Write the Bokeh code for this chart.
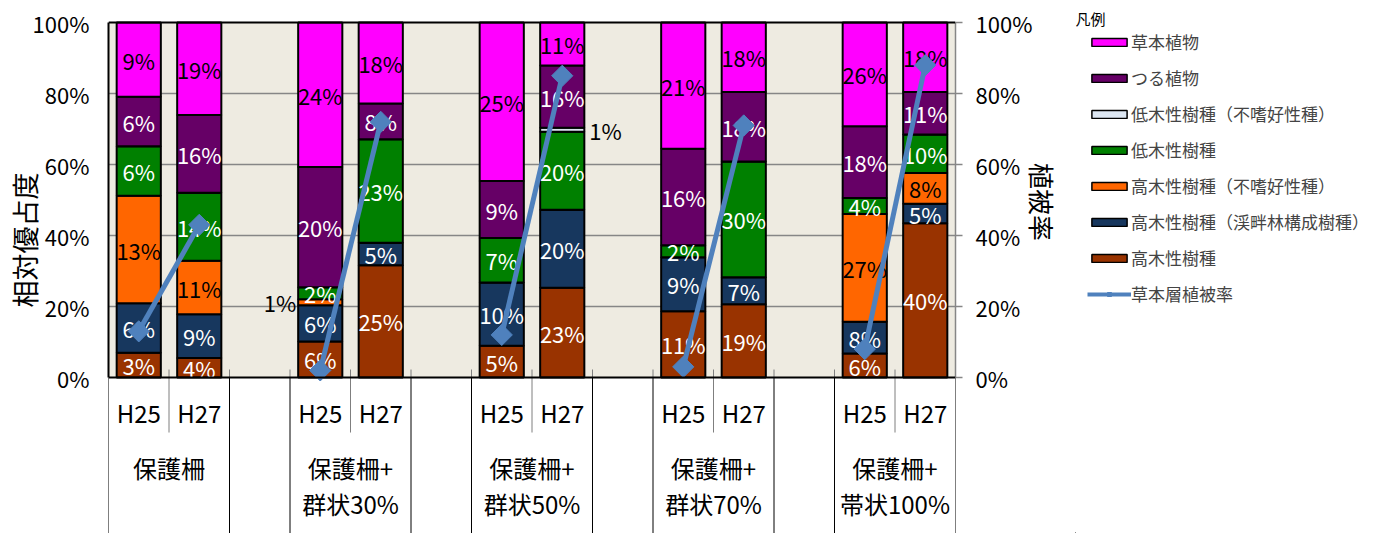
import numpy as np
from bokeh.plotting import figure
from bokeh.layouts import row
from bokeh.models import (FactorRange, Range1d, LinearAxis, FixedTicker, NumeralTickFormatter,
                          ColumnDataSource, Span, BoxAnnotation, Legend, LegendItem, Label)
from bokeh.transform import dodge
from bokeh.core.properties import value
from bokeh.embed import file_html
from bokeh.resources import INLINE

# ---------------- data ----------------
groups = ["保護柵", "保護柵+\n群状30%", "保護柵+\n群状50%", "保護柵+\n群状70%", "保護柵+\n帯状100%"]
years = ["H25", "H27"]

# series, bottom of the stack first
series = ["高木性樹種", "高木性樹種（渓畔林構成樹種）", "高木性樹種（不嗜好性種）",
          "低木性樹種", "低木性樹種（不嗜好性種）", "つる植物", "草本植物"]
colors = ["#993300", "#17375E", "#FF6600", "#008000", "#DCE6F2", "#660066", "#FF00FF"]
label_colors = ["white", "white", "black", "white", "black", "white", "black"]

# values (%) per bar: 保護柵 H25, H27, 群状30% H25, H27, 群状50% H25, H27, 群状70% H25, H27, 帯状100% H25, H27
tall = [3, 4, 6, 25, 5, 23, 11, 19, 6, 40]
riparian = [6, 9, 6, 5, 10, 20, 9, 7, 8, 5]
tall_unpalatable = [13, 11, 1, 0, 0, 0, 0, 0, 27, 8]
shrub = [6, 14, 2, 23, 7, 20, 2, 30, 4, 10]
shrub_unpalatable = [0, 0, 0, 0, 0, 1, 0, 0, 0, 0]
vine = [6, 16, 20, 8, 9, 16, 16, 18, 18, 11]
herb = [9, 19, 24, 18, 25, 11, 21, 18, 26, 18]
values = [tall, riparian, tall_unpalatable, shrub, shrub_unpalatable, vine, herb]

# 草本層植被率 (%), same bar order
cover_name = "草本層植被率"
cover = [13, 43, 2, 72, 12, 85, 3, 71, 8, 88]

# small (<=1%) labels are written beside the bar
small_label_side = {"高木性樹種（不嗜好性種）": "left", "低木性樹種（不嗜好性種）": "right"}

FONT = "Noto Sans CJK JP"
LINE_COLOR = "#4F81BD"
SP = "\u3000"

# ---------------- main figure ----------------
gkeys = [g.replace("\n", "") for g in groups]
factors = [(g, y) for g in gkeys for y in years]
x_range = FactorRange(*factors, factor_padding=0, group_padding=1, range_padding=0)
PX = 355.0                     # pixels per 100 %
Y0 = -(533 - 377) / PX         # bottom of the category-axis area
Y1 = 1 + 22 / PX               # space above 100 %
p = figure(width=1075, height=533, x_range=x_range, y_range=Range1d(Y0, Y1),
           output_backend="svg", toolbar_location=None,
           x_axis_location=None, y_axis_location=None,
           min_border_left=108, min_border_right=120, min_border_top=0, min_border_bottom=0)
p.extra_y_ranges = {"cover": Range1d(Y0, Y1)}
p.outline_line_color = None
p.background_fill_color = "white"
p.border_fill_color = "white"
p.xgrid.visible = False
p.ygrid.ticker = FixedTicker(ticks=[0.2, 0.4, 0.6, 0.8])
p.ygrid.grid_line_color = "#868686"
p.ygrid.grid_line_width = 1.5

bg = BoxAnnotation(bottom=0, top=1, fill_color="#EEEBE1", fill_alpha=1, line_color=None, level="underlay")
p.center = [bg] + list(p.center)

left = LinearAxis(bounds=(0, 1), ticker=FixedTicker(ticks=[0, 0.2, 0.4, 0.6, 0.8, 1.0]),
                  formatter=NumeralTickFormatter(format="0%"))
left.axis_line_color = "black"
left.axis_line_width = 2
left.major_tick_line_color = None
left.minor_tick_line_color = None
left.major_label_standoff = 13
left.major_label_text_font = FONT
left.major_label_text_font_size = "22px"
left.major_label_text_color = "black"
left.axis_label = SP * 2 + "相対優占度"
left.axis_label_text_font = FONT
left.axis_label_text_font_size = "27px"
left.axis_label_text_font_style = "normal"
left.axis_label_text_color = "black"
left.axis_label_standoff = -14
p.add_layout(left, "left")

right = LinearAxis(y_range_name="cover", bounds=(0, 1),
                   ticker=FixedTicker(ticks=[0, 0.2, 0.4, 0.6, 0.8, 1.0]),
                   formatter=NumeralTickFormatter(format="0%"))
right.axis_line_color = "#868686"
right.axis_line_width = 1.5
right.major_tick_line_color = "#868686"
right.major_tick_line_width = 1.5
right.major_tick_in = 0
right.major_tick_out = 7
right.minor_tick_line_color = None
right.major_label_standoff = 13
right.major_label_text_font = FONT
right.major_label_text_font_size = "22px"
right.major_label_text_color = "black"
right.axis_label = "植被率" + SP * 5
right.axis_label_text_font = FONT
right.axis_label_text_font_size = "26px"
right.axis_label_text_font_style = "normal"
right.axis_label_text_color = "black"
right.axis_label_standoff = -11
p.add_layout(right, "right")

# ---------------- stacked bars (normalised to 100%) ----------------
vals = np.array(values, dtype=float)
totals = vals.sum(axis=0)
frac = vals / totals
tops = np.cumsum(frac, axis=0)
bottoms = tops - frac

BAR_W = 0.73
inside = dict(x=[], y=[], text=[], color=[])
out_l = dict(x=[], y=[], text=[])
out_r = dict(x=[], y=[], text=[])
for j, name in enumerate(series):
    src = ColumnDataSource(dict(x=factors, bottom=bottoms[j], top=tops[j]))
    p.vbar(x="x", bottom="bottom", top="top", width=BAR_W, source=src,
           fill_color=colors[j], line_color="black", line_width=2)
    for i, f in enumerate(factors):
        v = values[j][i]
        if v <= 0:
            continue
        mid = (bottoms[j][i] + tops[j][i]) / 2
        txt = f"{v}%"
        if v <= 1 and name in small_label_side:
            d = out_l if small_label_side[name] == "left" else out_r
            d["x"].append(f); d["y"].append(mid); d["text"].append(txt)
        else:
            inside["x"].append(f); inside["y"].append(mid); inside["text"].append(txt)
            inside["color"].append(label_colors[j])

p.text(x="x", y="y", text="text", text_color="color", source=ColumnDataSource(inside),
       text_align="center", text_baseline="middle", text_font=value(FONT), text_font_size="22px")
p.text(x=dodge("x", -BAR_W / 2, range=x_range), y="y", text="text", source=ColumnDataSource(out_l),
       text_align="right", text_baseline="middle", x_offset=-2, text_color="black",
       text_font=value(FONT), text_font_size="22px")
p.text(x=dodge("x", BAR_W / 2, range=x_range), y="y", text="text", source=ColumnDataSource(out_r),
       text_align="left", text_baseline="middle", x_offset=5, text_color="black",
       text_font=value(FONT), text_font_size="22px")

# ---------------- frame lines / category axis ----------------
p.add_layout(Span(location=0, dimension="width", line_color="black", line_width=2))
p.add_layout(Span(location=1, dimension="width", line_color="black", line_width=2))

kinds = [y for g in gkeys for y in years]
full_x = [f for f in factors if f[1] == "H25"]
short_x = [f for f in factors if f[1] == "H27"]
p.segment(x0=dodge("x", -0.5, range=x_range), x1=dodge("x", -0.5, range=x_range), y0=0, y1=Y0,
          source=ColumnDataSource(dict(x=full_x)), line_color="black", line_width=1)
p.segment(x0=dodge("x", 0.5, range=x_range), x1=dodge("x", 0.5, range=x_range), y0=0, y1=Y0,
          source=ColumnDataSource(dict(x=short_x)), line_color="black", line_width=1)
p.segment(x0=dodge("x", -0.5, range=x_range), x1=dodge("x", -0.5, range=x_range), y0=0, y1=-0.155,
          source=ColumnDataSource(dict(x=short_x)), line_color="#7F7F7F", line_width=1)
p.segment(x0=dodge("x", -0.5, range=x_range), x1=dodge("x", -0.5, range=x_range), y0=0, y1=0.0225,
          source=ColumnDataSource(dict(x=factors)), line_color="#7F7F7F", line_width=1)
p.segment(x0=dodge("x", 0.5, range=x_range), x1=dodge("x", 0.5, range=x_range), y0=0, y1=0.0225,
          source=ColumnDataSource(dict(x=short_x)), line_color="#7F7F7F", line_width=1)

p.text(x="x", y=-0.0986, text="t", source=ColumnDataSource(dict(x=factors, t=kinds)),
       text_align="center", text_baseline="middle", text_font=value(FONT), text_font_size="24px",
       text_color="black")
gl = dict(x=[], y=[], t=[])
for g, key in zip(groups, gkeys):
    for k, line in enumerate(g.split("\n")):
        gl["x"].append(key); gl["y"].append(-0.2535 - k * 0.1014); gl["t"].append(line)
p.text(x="x", y="y", text="t", source=ColumnDataSource(gl),
       text_align="center", text_baseline="middle", text_font=value(FONT), text_font_size="24px",
       text_color="black")

# ---------------- cover line ----------------
seg = dict(x0=[], x1=[], y0=[], y1=[])
for i, key in enumerate(gkeys):
    seg["x0"].append((key, "H25")); seg["x1"].append((key, "H27"))
    seg["y0"].append(cover[2 * i] / 100); seg["y1"].append(cover[2 * i + 1] / 100)
p.segment(x0="x0", y0="y0", x1="x1", y1="y1", source=ColumnDataSource(seg),
          y_range_name="cover", line_color=LINE_COLOR, line_width=5)
p.scatter(x="x", y="y", source=ColumnDataSource(dict(x=factors, y=[c / 100 for c in cover])),
          y_range_name="cover", marker="square", angle=np.pi / 4, size=15,
          fill_color=LINE_COLOR, line_color=LINE_COLOR)

# ---------------- legend panel (separate figure) ----------------
LW, LH = 1382 - 1075, 533
lg = figure(width=LW, height=LH, x_range=Range1d(0, LW), y_range=Range1d(0, LH),
            output_backend="svg", toolbar_location=None,
            x_axis_location=None, y_axis_location=None,
            min_border_left=0, min_border_right=0, min_border_top=0, min_border_bottom=0)
lg.outline_line_color = None
lg.grid.visible = False
lg.background_fill_color = "white"
lg.border_fill_color = "white"

# legend-only renderers: one point each, placed just off the visible range
OFF = [-40]
items = []
for j in reversed(range(len(series))):
    r = lg.vbar(x=OFF, top=OFF, bottom=OFF, width=1, fill_color=colors[j],
                line_color="black", line_width=1.5)
    items.append(LegendItem(label=series[j], renderers=[r]))
lr = lg.line(x=[-40, -39], y=[-40, -40], line_color=LINE_COLOR, line_width=4)
ls = lg.scatter(x=OFF, y=OFF, marker="square", angle=np.pi / 4, size=8,
                fill_color=LINE_COLOR, line_color=LINE_COLOR)
items.append(LegendItem(label=cover_name, renderers=[lr, ls]))

legend = Legend(items=items, location=(12, 227), orientation="vertical",
                glyph_width=44, glyph_height=10, label_height=25, spacing=11, padding=0, margin=0,
                label_standoff=-2, label_text_font=FONT, label_text_font_size="17px",
                background_fill_alpha=0, border_line_color=None)
lg.add_layout(legend, "center")
lg.add_layout(Label(x=0, y=LH - 18, x_units="screen", y_units="screen", text="凡例",
                    text_align="left", text_baseline="middle", text_font=FONT,
                    text_font_size="15px", text_color="black"))

open("out.html", "w").write(file_html(row(p, lg), INLINE))
